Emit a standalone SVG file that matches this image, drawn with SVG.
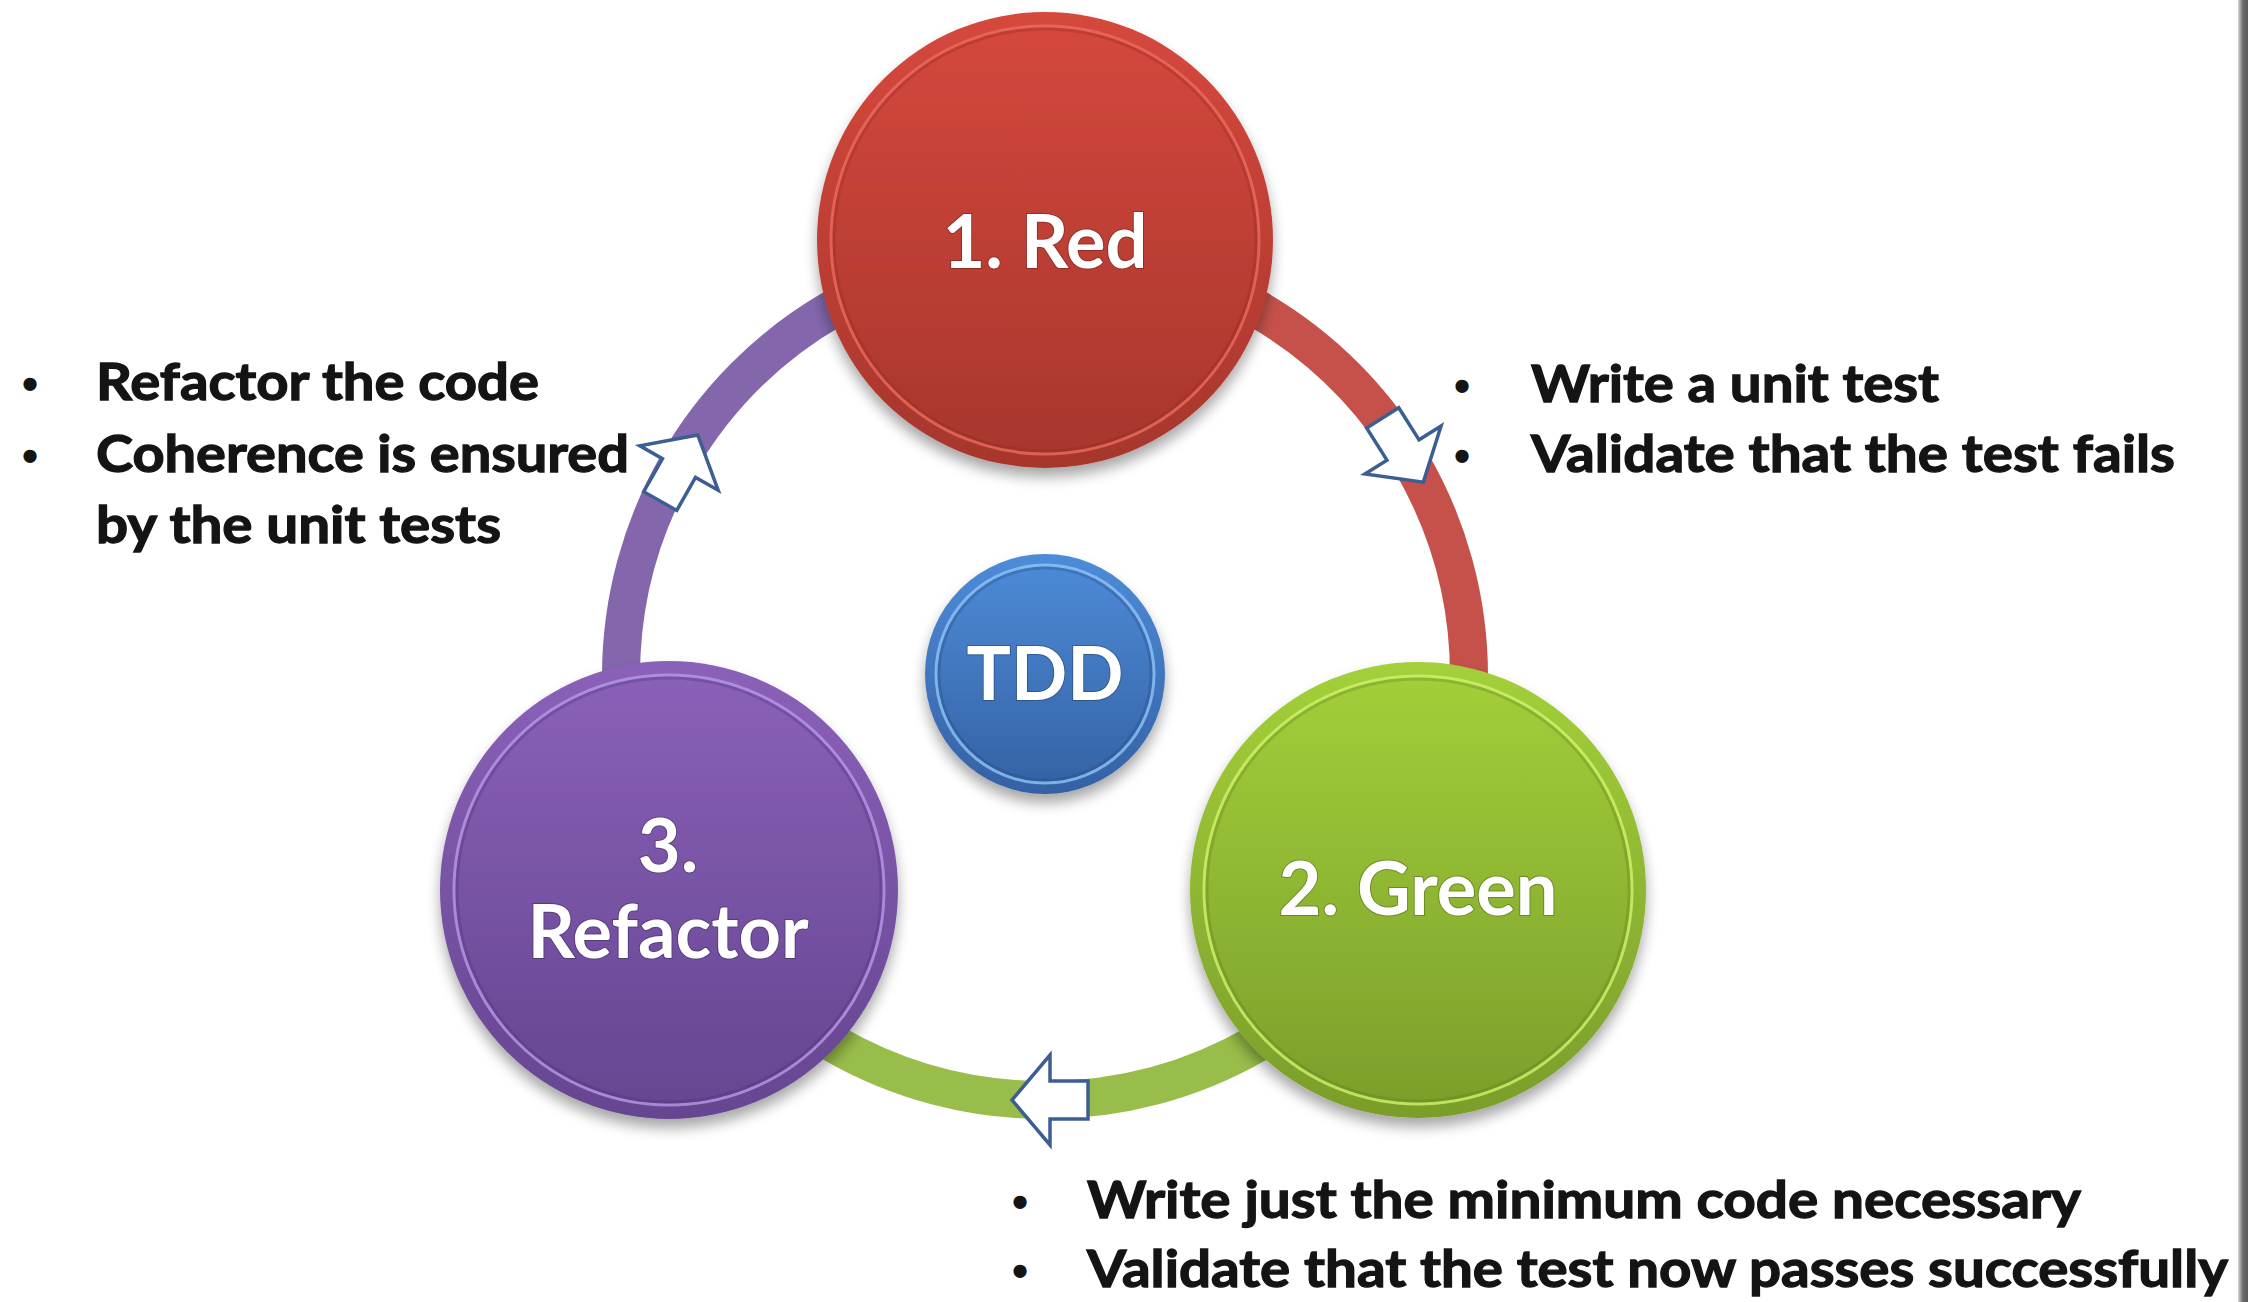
<svg xmlns="http://www.w3.org/2000/svg" width="2248" height="1302" viewBox="0 0 2248 1302">
<style>
.note{font-family:Lato,"Liberation Sans",sans-serif;font-weight:700;font-size:52px;fill:#141414;stroke:#141414;stroke-width:1.3}
.bul{font-family:"Liberation Sans",sans-serif;font-weight:700;font-size:46px;fill:#141414;text-anchor:middle}
.lbl{font-family:Lato,"Liberation Sans",sans-serif;font-weight:700;font-size:74px;fill:#ffffff;text-anchor:middle;stroke:rgba(0,0,0,0.25);stroke-width:2;paint-order:stroke}
.arc{fill:none;stroke-width:38}
.arrow{fill:#ffffff;stroke:#3B5E93;stroke-width:3.5;stroke-linejoin:miter}
.rim{fill:none;stroke-width:3}
</style>
<defs>
<linearGradient id="gRed" x1="0" y1="0" x2="0" y2="1"><stop offset="0" stop-color="#D6483D"/><stop offset="1" stop-color="#A6362C"/></linearGradient>
<linearGradient id="gGreen" x1="0" y1="0" x2="0" y2="1"><stop offset="0" stop-color="#A4D03A"/><stop offset="1" stop-color="#7A9D2B"/></linearGradient>
<linearGradient id="gPurple" x1="0" y1="0" x2="0" y2="1"><stop offset="0" stop-color="#8B61B9"/><stop offset="1" stop-color="#654590"/></linearGradient>
<linearGradient id="gBlue" x1="0" y1="0" x2="0" y2="1"><stop offset="0" stop-color="#4E8CD9"/><stop offset="1" stop-color="#3461A3"/></linearGradient>
<linearGradient id="gEdge" x1="0" y1="0" x2="1" y2="0"><stop offset="0" stop-color="#d8d8d8"/><stop offset="0.5" stop-color="#6a6a6a"/><stop offset="1" stop-color="#5a5a5a"/></linearGradient>
<filter id="sh" x="-20%" y="-20%" width="140%" height="150%">
<feGaussianBlur in="SourceAlpha" stdDeviation="7"/><feOffset dy="9"/>
<feComponentTransfer><feFuncA type="linear" slope="0.35"/></feComponentTransfer>
<feMerge><feMergeNode/><feMergeNode in="SourceGraphic"/></feMerge>
</filter>
<path id="blockArrow" d="M-38,-19 L0,-19 L0,-45 L38,0 L0,45 L0,19 L-38,19 Z"/>
</defs>
<rect x="0" y="0" width="2248" height="1302" fill="#ffffff"/>
<rect x="2238" y="0" width="10" height="1302" fill="url(#gEdge)"/>

<g id="connectors">
<path class="arc" stroke="#C5514A" d="M1045,252 A424,424 0 0 1 1412.2,888"/>
<path class="arc" stroke="#98BD4A" d="M1412.2,888 A424,424 0 0 1 677.8,888"/>
<path class="arc" stroke="#8466AC" d="M677.8,888 A424,424 0 0 1 1045,252"/>
</g>

<g id="node-red" filter="url(#sh)">
<circle cx="1045" cy="240" r="228" fill="url(#gRed)"/>
<circle class="rim" cx="1045" cy="240" r="214" stroke="#EC6A5F" opacity="0.8"/>
<circle class="rim" cx="1045" cy="240" r="211" stroke="#8E2B22" opacity="0.3"/>
<text class="lbl" x="1045" y="268">1. Red</text>
</g>
<g id="node-green" filter="url(#sh)">
<circle cx="1418" cy="890" r="228" fill="url(#gGreen)"/>
<circle class="rim" cx="1418" cy="890" r="214" stroke="#CFF36A" opacity="0.8"/>
<circle class="rim" cx="1418" cy="890" r="211" stroke="#5E7C1E" opacity="0.3"/>
<text class="lbl" x="1418" y="915">2. Green</text>
</g>
<g id="node-purple" filter="url(#sh)">
<circle cx="669" cy="890" r="229" fill="url(#gPurple)"/>
<circle class="rim" cx="669" cy="890" r="215" stroke="#B997EA" opacity="0.8"/>
<circle class="rim" cx="669" cy="890" r="212" stroke="#4A3170" opacity="0.3"/>
<text class="lbl" x="668" y="872">3.</text>
<text class="lbl" x="668" y="958">Refactor</text>
</g>
<g id="node-tdd" filter="url(#sh)">
<circle cx="1045" cy="674" r="120" fill="url(#gBlue)"/>
<circle class="rim" cx="1045" cy="674" r="109" stroke="#8FC4F7" opacity="0.8"/>
<circle class="rim" cx="1045" cy="674" r="106" stroke="#25477A" opacity="0.3"/>
<text class="lbl" x="1045" y="700">TDD</text>
</g>

<g id="arrows">
<use href="#blockArrow" class="arrow" transform="translate(1403,450) rotate(57.7)"/>
<use href="#blockArrow" class="arrow" transform="translate(1050,1100) rotate(180)"/>
<use href="#blockArrow" class="arrow" transform="translate(679,468) rotate(-60.4)"/>
</g>

<g id="notes-refactor">
<text class="bul" x="30" y="400">•</text>
<text class="note" x="96" y="400" textLength="443" lengthAdjust="spacingAndGlyphs">Refactor the code</text>
<text class="bul" x="30" y="472">•</text>
<text class="note" x="96" y="472" textLength="533" lengthAdjust="spacingAndGlyphs">Coherence is ensured</text>
<text class="note" x="96" y="543" textLength="405" lengthAdjust="spacingAndGlyphs">by the unit tests</text>
</g>
<g id="notes-red">
<text class="bul" x="1462" y="402">•</text>
<text class="note" x="1531" y="402" textLength="408" lengthAdjust="spacingAndGlyphs">Write a unit test</text>
<text class="bul" x="1462" y="472">•</text>
<text class="note" x="1531" y="472" textLength="644" lengthAdjust="spacingAndGlyphs">Validate that the test fails</text>
</g>
<g id="notes-green">
<text class="bul" x="1020" y="1218">•</text>
<text class="note" x="1087" y="1218" textLength="994" lengthAdjust="spacingAndGlyphs">Write just the minimum code necessary</text>
<text class="bul" x="1020" y="1287">•</text>
<text class="note" x="1087" y="1287" textLength="1141" lengthAdjust="spacingAndGlyphs">Validate that the test now passes successfully</text>
</g>
</svg>
